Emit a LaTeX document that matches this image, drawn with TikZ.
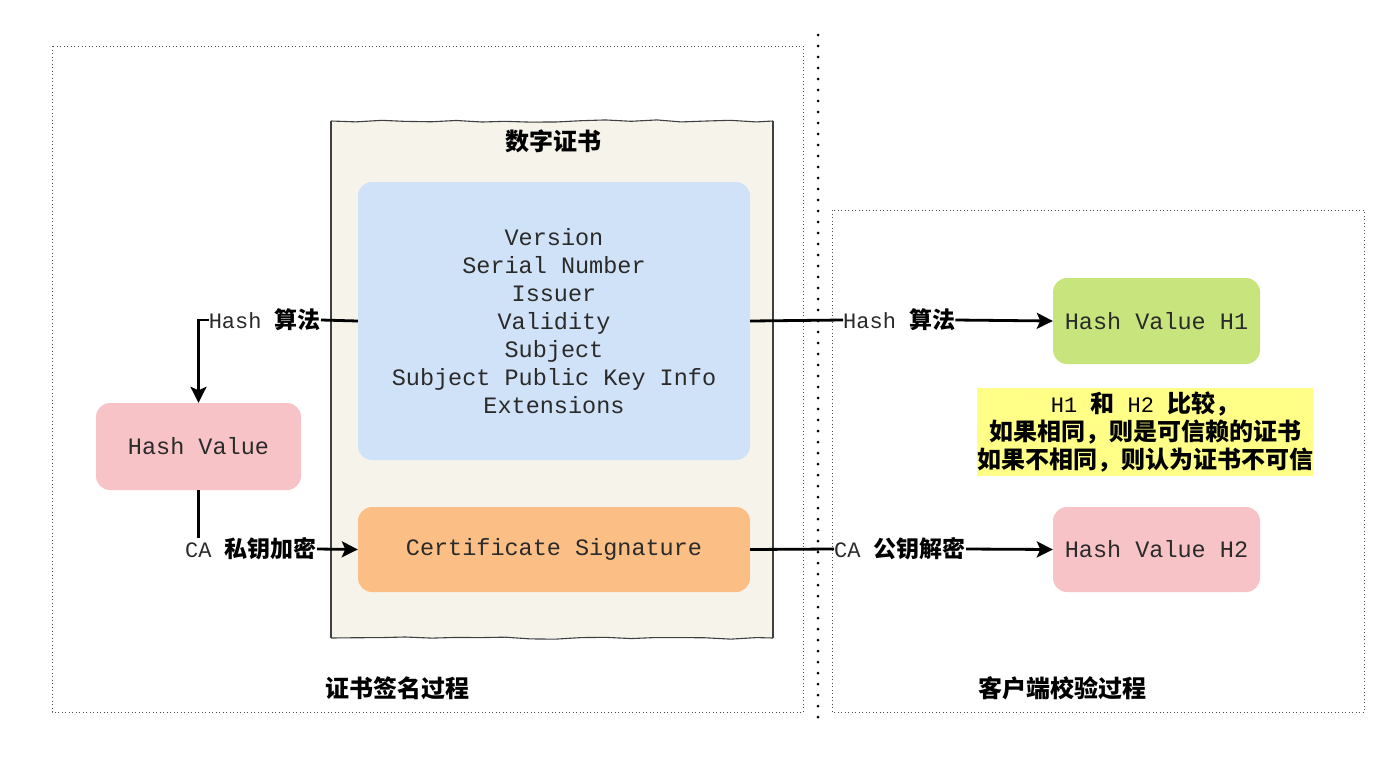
\documentclass[tikz,border=0pt]{standalone}
\usepackage{fontspec}
\setmonofont{Liberation Mono}
\newfontfamily\cjk{Noto Sans CJK SC}
\usetikzlibrary{arrows.meta,decorations.pathmorphing}
\definecolor{beige}{HTML}{F6F3EA}
\definecolor{bluebox}{HTML}{D0E2F8}
\definecolor{pinkbox}{HTML}{F8C3C6}
\definecolor{orangebox}{HTML}{FBBF86}
\definecolor{greenbox}{HTML}{C8E47D}
\definecolor{yellowbox}{HTML}{FFFF88}
\definecolor{txt}{HTML}{2A2A2A}
\tikzset{
  fbox/.style={rounded corners=14pt, draw=none, inner sep=0pt, text=txt,
    font=\ttfamily\fontsize{23.5}{28}\selectfont, align=center},
  lbl/.style={inner sep=0pt, text=black, font=\fontsize{22}{26}\selectfont},
  arr/.style={line width=2.8pt, -{Stealth[length=16pt,width=16pt,inset=3.5pt]}},
  ln/.style={line width=2.8pt},
  areabox/.style={draw=black!70, line width=0.8pt, dash pattern=on 1pt off 2.5pt},
  ttl/.style={inner sep=0pt, font=\cjk\bfseries\fontsize{24}{28}\selectfont}
}
\newcommand{\mylbl}[2]{{\ttfamily\color{txt}#1 }{\cjk\bfseries\fontsize{23}{26}\selectfont #2}}
\begin{document}
\begin{tikzpicture}[x=1pt,y=-1pt]
\useasboundingbox (0,0) rectangle (1398,756);
% area boxes
\draw[areabox] (52,46) rectangle (803,712);
\draw[areabox] (832,210) rectangle (1364,712);
\draw[line width=3pt, dash pattern=on 0pt off 11pt, line cap=round] (818,35) -- (818,718);
% certificate container
\fill[beige] (331,121) rectangle (773,638);
\draw[line width=1.1pt, black!75, decorate, decoration={random steps, segment length=25pt, amplitude=1.2pt}] (331,121) -- (773,121);
\draw[line width=1.1pt, black!75, decorate, decoration={random steps, segment length=25pt, amplitude=1.2pt}] (331,638) -- (773,638);
\draw[line width=1.1pt, black!75] (331,121) -- (331,638);
\draw[line width=1.1pt, black!75] (773,121) -- (773,638);
\node[ttl] (cert) at (553,141) {数字证书};
% boxes
\node[fbox, fill=bluebox, minimum width=392pt, minimum height=278pt] (blue) at (554,321)
  {Version\\Serial Number\\Issuer\\Validity\\Subject\\Subject Public Key Info\\Extensions};
\node[fbox, fill=pinkbox, minimum width=205pt, minimum height=87pt] (hv) at (198.5,446.5) {Hash Value};
\node[fbox, fill=orangebox, minimum width=392pt, minimum height=85pt] (sig) at (554,549.5) {Certificate Signature};
\node[fbox, fill=greenbox, minimum width=207pt, minimum height=86pt] (h1) at (1156.5,321) {Hash Value H1};
\node[fbox, fill=pinkbox, minimum width=207pt, minimum height=85pt] (h2) at (1156.5,549.5) {Hash Value H2};
\node[fill=yellowbox, minimum width=334pt, minimum height=88pt, inner sep=0pt, align=center,
  font=\cjk\bfseries\fontsize{24}{28}\selectfont] (cmp) at (1145,432)
  {{\ttfamily\mdseries\fontsize{22}{28}\selectfont H1 }和{\ttfamily\mdseries\fontsize{22}{28}\selectfont{} H2 }比较，\\如果相同，则是可信赖的证书\\如果不相同，则认为证书不可信};
% labels
\node[lbl, anchor=east] (lh) at (321,320) {\mylbl{Hash}{算法}};
\node[lbl, anchor=east] (lca) at (317,549) {\mylbl{CA}{私钥加密}};
\node[lbl, anchor=west] (rh) at (843,320) {\mylbl{Hash}{算法}};
\node[lbl, anchor=west] (rca) at (834,549) {\mylbl{CA}{公钥解密}};
\node[ttl] (lt) at (397,688) {证书签名过程};
\node[ttl] (rt) at (1062,688) {客户端校验过程};
% connectors
\coordinate (c1) at (hv.north |- lh.west);
\draw[ln] (blue.west) -- (lh.east);
\draw[arr] (lh.west) -- (c1) -- (hv.north);
\draw[ln] (hv.south) -- (hv.south |- lca.north);
\draw[arr] (lca.east) -- (sig.west);
\draw[ln] (blue.east) -- (rh.west);
\draw[arr] (rh.east) -- (h1.west);
\draw[ln] (sig.east) -- (rca.west);
\draw[arr] (rca.east) -- (h2.west);
\end{tikzpicture}
\end{document}
